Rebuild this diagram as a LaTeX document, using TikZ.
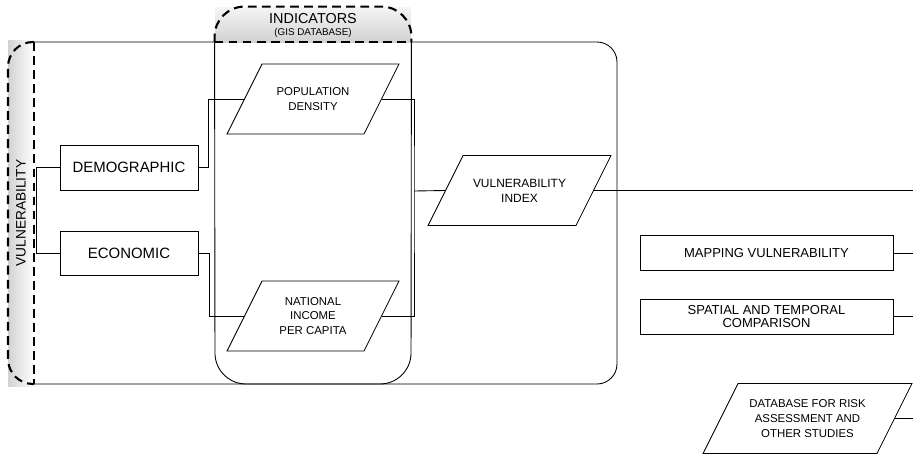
\documentclass[tikz,border=0pt]{standalone}
\usepackage{fontspec}
\setmainfont{Liberation Sans}
\usetikzlibrary{shapes.geometric}

\newcommand{\datatext}[2]{\parbox[c][1.2cm][c]{#1}{\centering #2}}

\begin{document}
\begin{tikzpicture}[x=0.02cm, y=-0.02cm, line width=0.5pt,
  box/.style={draw, rectangle, inner sep=1pt, align=center},
  data/.style={draw, trapezium, trapezium left angle=63.43, trapezium right angle=116.57,
    inner xsep=0.02cm, inner ysep=0.1cm, font=\fontsize{6.5}{8.5}\selectfont},
  dashline/.style={line width=1.2pt, dash pattern=on 5pt off 3pt}]

  \useasboundingbox (0,0) rectangle (913,454);

  % vulnerability bar
  \shade[left color=gray!35, right color=white] (8,40) rectangle (34,386);
  \draw[dashline, rounded corners=0.5cm] (34,42) -- (8,42) -- (8,384) -- (34,384);
  \draw[dashline] (34,42) -- (34,384);
  \node[rotate=90, font=\fontsize{7.8}{9}\selectfont] (vul) at (21,213) {VULNERABILITY};

  % main frame
  \draw[rounded corners=0.4cm] (34,42) -- (617,42) -- (617,384) -- (34,384);

  % indicators
  \node[minimum width=3.92cm, minimum height=0.7cm, inner sep=0pt,
        top color=gray!8, bottom color=gray!35] (ind) at (313,24.5) {};
  \draw[dashline, rounded corners=0.6cm] (ind.south west) -- (ind.north west)
        -- (ind.north east) -- (ind.south east);
  \draw[dashline] (ind.south west) -- (ind.south east);
  \draw[rounded corners=0.62cm] (ind.south west) -- (215,384) -- (411,384) -- (ind.south east);
  \node[font=\fontsize{8.2}{9}\selectfont] (indt) at (313,19) {INDICATORS};
  \node[font=\fontsize{5.6}{7}\selectfont] (gis) at (313,33) {(GIS DATABASE)};

  \node[box, minimum width=2.76cm, minimum height=0.9cm, font=\fontsize{8.5}{10}\selectfont] (demo) at (129,167.5) {DEMOGRAPHIC};
  \node[box, minimum width=2.76cm, minimum height=0.88cm, font=\fontsize{8.5}{10}\selectfont] (econ) at (129,253) {ECONOMIC};

  \node[data] (pop) at (313,99) {\datatext{2cm}{POPULATION\\DENSITY}};
  \node[data] (nat) at (313,316) {\datatext{2cm}{NATIONAL\\INCOME\\PER CAPITA}};
  \node[data, font=\fontsize{6.8}{8.5}\selectfont] (index) at (519.5,190.5) {\datatext{2.22cm}{VULNERABILITY\\INDEX}};

  \node[box, minimum width=5.06cm, minimum height=0.69cm, font=\fontsize{7.4}{8.5}\selectfont] (map) at (766.5,253) {MAPPING VULNERABILITY};
  \node[box, minimum width=5.06cm, minimum height=0.7cm, font=\fontsize{7.4}{7.6}\selectfont] (comp) at (766.5,316.5) {SPATIAL AND TEMPORAL\\COMPARISON};
  \node[data] (db) at (807.5,418.5) {\datatext{2.74cm}{DATABASE FOR RISK\\ASSESSMENT AND\\OTHER STUDIES}};

  \coordinate (bus) at (414,191);
  \coordinate (edge) at (913,0);

  \draw (demo.west) -- ++(-23,0) |- (econ.west);
  \draw (demo.east) -- ++(10,0) |- (pop.west);
  \draw (econ.east) -- ++(11,0) |- (nat.west);
  \draw (pop.east) -| (bus) |- (nat.east);
  \draw (bus) -- (index.west);
  \foreach \n in {index, map, comp, db}
    \draw (\n.east) -- (\n.east -| edge);
\end{tikzpicture}
\end{document}
